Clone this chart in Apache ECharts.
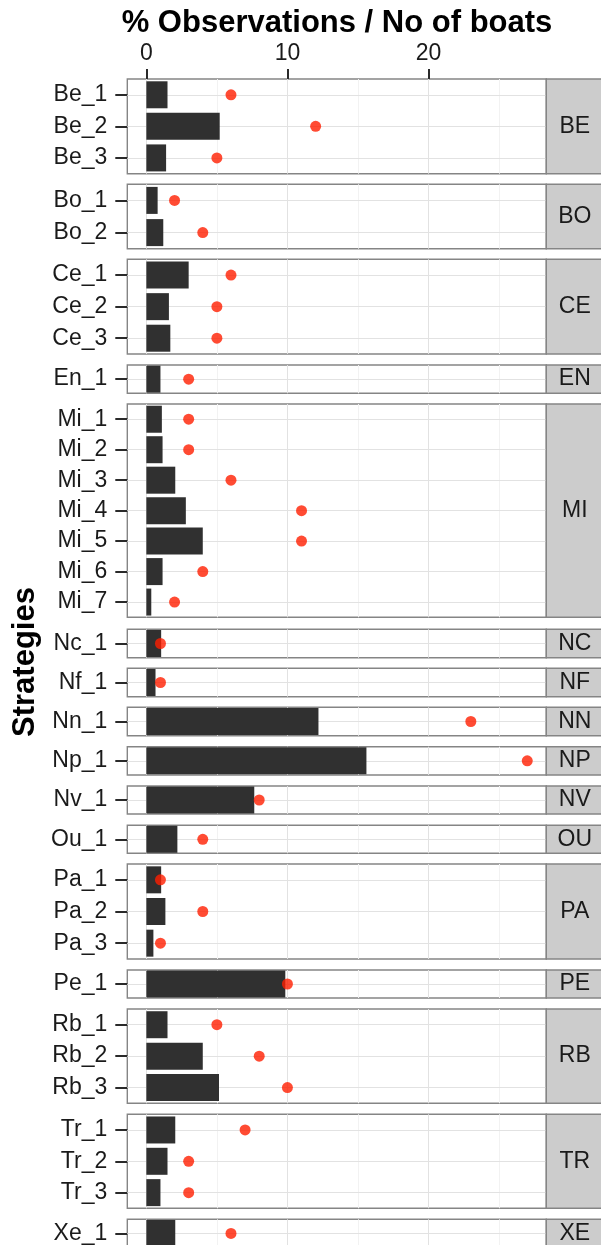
<!DOCTYPE html>
<html><head><meta charset="utf-8">
<script src="https://cdn.jsdelivr.net/npm/echarts@6/dist/echarts.min.js"></script>
<style>html,body{margin:0;padding:0;background:#fff}#c{width:601px;height:1245px}</style>
</head><body><div id="c"></div>
<script>
// ---- data ----
const strategies = ['Be_1','Be_2','Be_3','Bo_1','Bo_2','Ce_1','Ce_2','Ce_3','En_1','Mi_1','Mi_2','Mi_3','Mi_4','Mi_5','Mi_6','Mi_7','Nc_1','Nf_1','Nn_1','Np_1','Nv_1','Ou_1','Pa_1','Pa_2','Pa_3','Pe_1','Rb_1','Rb_2','Rb_3','Tr_1','Tr_2','Tr_3','Xe_1'];
const pctObservations = [1.5,5.2,1.4,0.8,1.2,3.0,1.6,1.7,1.0,1.1,1.15,2.05,2.8,4.0,1.15,0.35,1.05,0.65,12.2,15.6,7.65,2.2,1.05,1.35,0.5,9.85,1.5,4.0,5.15,2.05,1.5,1.0,2.05];
const noOfBoats = [6,12,5,2,4,6,5,5,3,3,3,6,11,11,4,2,1,1,23,27,8,4,1,4,1,10,5,8,10,7,3,3,6];
const xTickValues = [0,10,20];
const xMinorValues = [5,15,25];
const xTitle = '% Observations / No of boats';
const yTitle = 'Strategies';

// ---- layout ----
const panelTop    = [79,184.3,259.3,365,404,629.3,668.3,707.3,746.7,786,825.3,864,970,1009,1114.3,1219.3];
const panelBottom = [173.7,248.7,354,393.3,617.3,657.7,696.7,735.7,775,814,853.3,959,998,1103.3,1208.3,1247.6];
const panelLeft = 127.3, panelWidth = 419, stripWidth = 58;
const FONT = "'Liberation Sans', Arial, Helvetica, sans-serif";
const textColor = '#1a1a1a';
const borderColor = '#858585';

const groupOf = s => s.slice(0,2).toUpperCase();
const groups = [...new Set(strategies.map(groupOf))];

const grid = [], xAxis = [], yAxis = [], series = [], graphic = [];
groups.forEach((g, i) => {
  const idx = strategies.map((s, k) => groupOf(s) === g ? k : -1).filter(k => k >= 0);
  const cats = idx.map(k => strategies[k]);
  const top = panelTop[i], h = panelBottom[i] - panelTop[i];
  grid.push({left: panelLeft, top: top, width: panelWidth, height: h, show: true,
    backgroundColor: '#ffffff', borderColor: borderColor, borderWidth: 1.4, outerBoundsMode: 'none'});
  xAxis.push({gridIndex: i, type: 'value', min: -1.35, max: 28.35, position: 'top',
    axisLine: {show: false, onZero: false}, splitLine: {show: false},
    axisTick: i === 0 ? {show: true, customValues: xTickValues, length: 10, lineStyle: {color: '#2a2a2a', width: 2}} : {show: false},
    axisLabel: i === 0 ? {show: true, customValues: xTickValues, fontSize: 23, color: textColor, margin: 14, fontFamily: FONT} : {show: false}
  });
  yAxis.push({gridIndex: i, type: 'category', inverse: true, data: cats, position: 'left',
    axisLine: {show: false, onZero: false}, splitLine: {show: false},
    axisTick: {show: true, alignWithLabel: true, length: 12, lineStyle: {color: '#2a2a2a', width: 2}},
    axisLabel: {fontSize: 23, color: textColor, margin: 20, fontFamily: FONT}
  });
  const lines = [];
  xMinorValues.forEach(v => lines.push({xAxis: v, lineStyle: {color: '#f2f2f2', width: 1, type: 'solid'}}));
  xTickValues.forEach(v => lines.push({xAxis: v, lineStyle: {color: '#e2e2e2', width: 1, type: 'solid'}}));
  cats.forEach(c => lines.push({yAxis: c, lineStyle: {color: '#e2e2e2', width: 1, type: 'solid'}}));
  series.push({type: 'bar', xAxisIndex: i, yAxisIndex: i, data: idx.map(k => pctObservations[k]),
    barWidth: 27, itemStyle: {color: '#303030'}, z: 2, silent: true,
    markLine: {silent: true, symbol: 'none', z: 1, label: {show: false}, animation: false, data: lines}
  });
  series.push({type: 'scatter', xAxisIndex: i, yAxisIndex: i, data: idx.map(k => [noOfBoats[k], strategies[k]]),
    symbolSize: 11, itemStyle: {color: '#ff1e00'}, z: 3, silent: true});
  graphic.push({type: 'rect', shape: {x: panelLeft + panelWidth, y: top, width: stripWidth, height: h},
    style: {fill: '#cccccc', stroke: borderColor, lineWidth: 1.4}, z: 10});
  graphic.push({type: 'text', x: panelLeft + panelWidth + 28.5, y: top + h / 2,
    style: {text: g, font: '23px ' + FONT, fill: textColor, textAlign: 'center', textVerticalAlign: 'middle'}, z: 11});
});
graphic.push({type: 'text', x: 337, y: 23, style: {text: xTitle, font: 'bold 31px ' + FONT, fill: '#000', textAlign: 'center', textVerticalAlign: 'middle'}, z: 11});
graphic.push({type: 'text', x: 25, y: 662, rotation: Math.PI / 2, style: {text: yTitle, font: 'bold 31px ' + FONT, fill: '#000', textAlign: 'center', textVerticalAlign: 'middle'}, z: 11});

const chart = echarts.init(document.getElementById('c'), null, {renderer: 'canvas'});
chart.setOption({animation: false, backgroundColor: '#ffffff', grid, xAxis, yAxis, series, graphic});
</script></body></html>
